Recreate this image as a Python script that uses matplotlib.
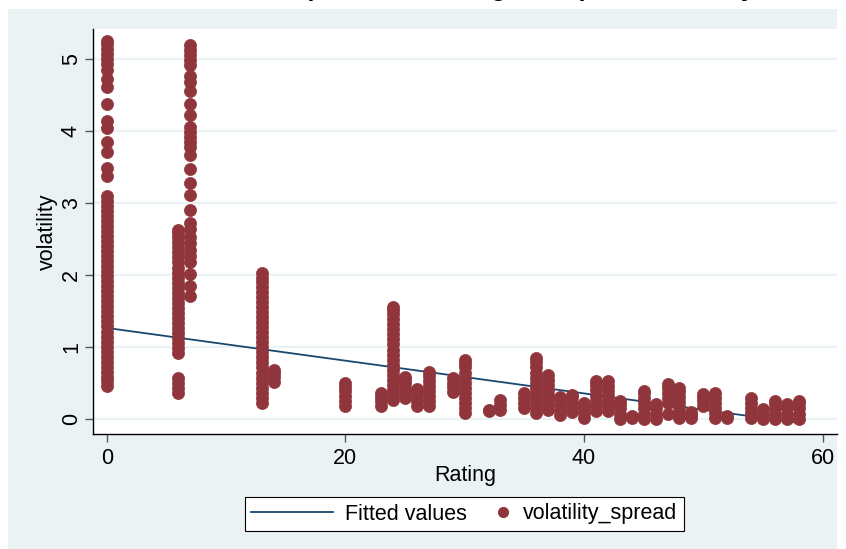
import matplotlib
matplotlib.use("Agg")
import matplotlib.pyplot as plt
from matplotlib.patches import Rectangle
from matplotlib.lines import Line2D
from matplotlib.legend_handler import HandlerBase
import numpy as np

plt.rcParams['font.family'] = ['Liberation Sans', 'DejaVu Sans']

# ---------------- data ----------------
rating_levels = [0, 6, 7, 13, 14, 20, 23, 24, 25, 26, 27, 29, 30, 32, 33, 35, 36, 37,
                 38, 39, 40, 41, 42, 43, 44, 45, 46, 47, 48, 49, 50, 51, 52, 54, 55,
                 56, 57, 58]

volatility_by_rating = [
    # 0
    [0.45, 0.52, 0.58, 0.65, 0.72, 0.79, 0.86, 0.93, 1.0, 1.07, 1.14, 1.21, 1.28,
     1.35, 1.42, 1.49, 1.56, 1.63, 1.7, 1.77, 1.84, 1.91, 1.98, 2.05, 2.12, 2.19,
     2.26, 2.33, 2.4, 2.47, 2.54, 2.61, 2.68, 2.75, 2.82, 2.89, 2.96, 3.03, 3.1,
     3.37, 3.48, 3.71, 3.84, 4.04, 4.14, 4.37, 4.61, 4.72, 4.84, 4.93, 5.0, 5.07,
     5.14, 5.21, 5.25],
    # 6
    [0.35, 0.42, 0.49, 0.56, 0.91, 0.98, 1.05, 1.12, 1.19, 1.26, 1.33, 1.40, 1.47,
     1.54, 1.61, 1.68, 1.75, 1.82, 1.89, 1.96, 2.03, 2.10, 2.17, 2.24, 2.31, 2.38,
     2.45, 2.52, 2.58, 2.62],
    # 7
    [1.71, 1.85, 2.01, 2.17, 2.26, 2.35, 2.44, 2.53, 2.63, 2.72, 2.90, 3.11, 3.28,
     3.47, 3.66, 3.77, 3.84, 3.91, 3.98, 4.05, 4.22, 4.38, 4.56, 4.68, 4.77, 4.91,
     4.98, 5.05, 5.12, 5.19],
    # 13
    [0.22, 0.29, 0.36, 0.43, 0.5, 0.57, 0.64, 0.71, 0.78, 0.85, 0.92, 0.99, 1.06,
     1.13, 1.2, 1.27, 1.34, 1.41, 1.48, 1.55, 1.62, 1.69, 1.76, 1.83, 1.9, 1.96, 2.02],
    # 14
    [0.51, 0.58, 0.64, 0.68],
    # 20
    [0.17, 0.24, 0.31, 0.38, 0.44, 0.49],
    # 23
    [0.17, 0.24, 0.30, 0.36],
    # 24
    [0.26, 0.33, 0.40, 0.47, 0.54, 0.61, 0.68, 0.75, 0.82, 0.89, 0.96, 1.03, 1.10,
     1.17, 1.24, 1.31, 1.38, 1.45, 1.51, 1.55],
    # 25
    [0.28, 0.35, 0.42, 0.49, 0.55, 0.58],
    # 26
    [0.17, 0.24, 0.31, 0.37, 0.41],
    # 27
    [0.17, 0.24, 0.31, 0.38, 0.45, 0.52, 0.59, 0.65],
    # 29
    [0.37, 0.44, 0.50, 0.56],
    # 30
    [0.08, 0.15, 0.22, 0.29, 0.36, 0.43, 0.50, 0.57, 0.64, 0.71, 0.77, 0.81],
    # 32
    [0.10, 0.12],
    # 33
    [0.12, 0.19, 0.26],
    # 35
    [0.15, 0.22, 0.29, 0.35],
    # 36
    [0.08, 0.15, 0.22, 0.29, 0.36, 0.43, 0.50, 0.57, 0.64, 0.71, 0.78, 0.84],
    # 37
    [0.12, 0.19, 0.26, 0.33, 0.40, 0.47, 0.54, 0.60],
    # 38
    [0.05, 0.12, 0.19, 0.26, 0.30],
    # 39
    [0.09, 0.16, 0.23, 0.30, 0.33],
    # 40
    [0.01, 0.08, 0.15, 0.21],
    # 41
    [0.11, 0.18, 0.25, 0.32, 0.39, 0.46, 0.52],
    # 42
    [0.10, 0.17, 0.24, 0.31, 0.38, 0.45, 0.52],
    # 43
    [0.0, 0.07, 0.14, 0.20, 0.25],
    # 44
    [0.01, 0.03],
    # 45
    [0.0, 0.07, 0.14, 0.21, 0.28, 0.35, 0.38],
    # 46
    [0.0, 0.07, 0.14, 0.20],
    # 47
    [0.07, 0.22, 0.29, 0.36, 0.43, 0.48],
    # 48
    [0.01, 0.09, 0.16, 0.23, 0.30, 0.37, 0.43],
    # 49
    [0.01, 0.05, 0.09],
    # 50
    [0.17, 0.24, 0.30, 0.34],
    # 51
    [0.01, 0.08, 0.15, 0.22, 0.29, 0.36],
    # 52
    [0.01, 0.03],
    # 54
    [0.01, 0.08, 0.15, 0.22, 0.28],
    # 55
    [0.0, 0.07, 0.13],
    # 56
    [0.0, 0.07, 0.14, 0.21, 0.25],
    # 57
    [0.0, 0.07, 0.14, 0.20],
    # 58
    [0.0, 0.07, 0.14, 0.21, 0.25],
]

fit_intercept = 1.26
fit_slope = -0.02276

x_ticks = [0, 20, 40, 60]
y_ticks = [0, 1, 2, 3, 4, 5]

title_text = "Relationship between rating and spread volatility"
x_label = "Rating"
y_label = "volatility"
legend_labels = ["Fitted values", "volatility_spread"]

# ---------------- style ----------------
W, H = 846, 549
bg = "#EAF2F3"
navy = "#1A476F"
maroon = "#90353B"
FS = 15.5

fig = plt.figure(figsize=(W / 100, H / 100), dpi=100, facecolor="white")
fig.patches.append(Rectangle((8 / W, 0), (837 - 8) / W, (H - 9) / H,
                             transform=fig.transFigure, facecolor=bg,
                             edgecolor="none", zorder=-5))

ax = fig.add_axes([93 / W, (H - 434) / H, (837 - 93) / W, (434 - 29) / H])
ax.set_zorder(2)
ax.set_facecolor("white")

xs, ys = [], []
for r, vals in zip(rating_levels, volatility_by_rating):
    xs.extend([r] * len(vals))
    ys.extend(vals)

fx = np.array([min(rating_levels), max(rating_levels)], dtype=float)
fy = fit_intercept + fit_slope * fx
line_h, = ax.plot(fx, fy, color=navy, lw=1.3, zorder=3)
ax.scatter(xs, ys, s=76, color=maroon, edgecolors=maroon, linewidths=0.5,
           zorder=4)

ax.set_xlim(-1.15, 61.2)
ax.set_ylim(-0.215, 5.417)
ax.set_xticks(x_ticks)
ax.set_yticks(y_ticks)
ax.set_yticklabels([str(v) for v in y_ticks], rotation=90, va="center")
for y in y_ticks:
    ax.axhline(y, color=bg, lw=1.6, zorder=1)

for side in ["top", "right"]:
    ax.spines[side].set_visible(False)
for side in ["left", "bottom"]:
    ax.spines[side].set_color("black")
    ax.spines[side].set_linewidth(1.0)

ax.tick_params(axis="both", direction="out", length=6, width=1.0,
               color="#555555", labelsize=FS, pad=4)
ax.tick_params(axis="y", pad=2)

ax.set_xlabel(x_label, fontsize=FS, labelpad=-2.5)
ax.set_ylabel(y_label, fontsize=FS, labelpad=2)

fig.text(0.548, 1.0 + 4.1 / H, title_text, ha="center", va="baseline",
         fontsize=18, fontweight="bold")


class RightMarkerHandler(HandlerBase):
    def create_artists(self, legend, orig_handle, xdescent, ydescent, width,
                       height, fontsize, trans):
        x = -xdescent + width - 8 * 72 / 100
        y = -ydescent + height / 2
        m = Line2D([x], [y], marker="o", linestyle="none", markersize=7,
                   markerfacecolor=maroon, markeredgecolor=maroon,
                   transform=trans)
        return [m]


marker_h = Line2D([], [], marker="o", linestyle="none", color=maroon)
fsp = FS * 100 / 72
leg = fig.legend([line_h, marker_h], legend_labels,
                 handler_map={marker_h: RightMarkerHandler()},
                 loc="center", bbox_to_anchor=((242 + 687) / 2 / W, 1 - 514 / H),
                 ncol=2, fontsize=FS, frameon=True, fancybox=False,
                 edgecolor="black", facecolor="white", framealpha=1,
                 handlelength=82 / fsp, columnspacing=-38 / fsp,
                 handletextpad=12 / fsp, borderpad=0.3, borderaxespad=0)
leg.get_frame().set_linewidth(0.8)

fig.savefig("out.png", dpi=100, facecolor="white")
